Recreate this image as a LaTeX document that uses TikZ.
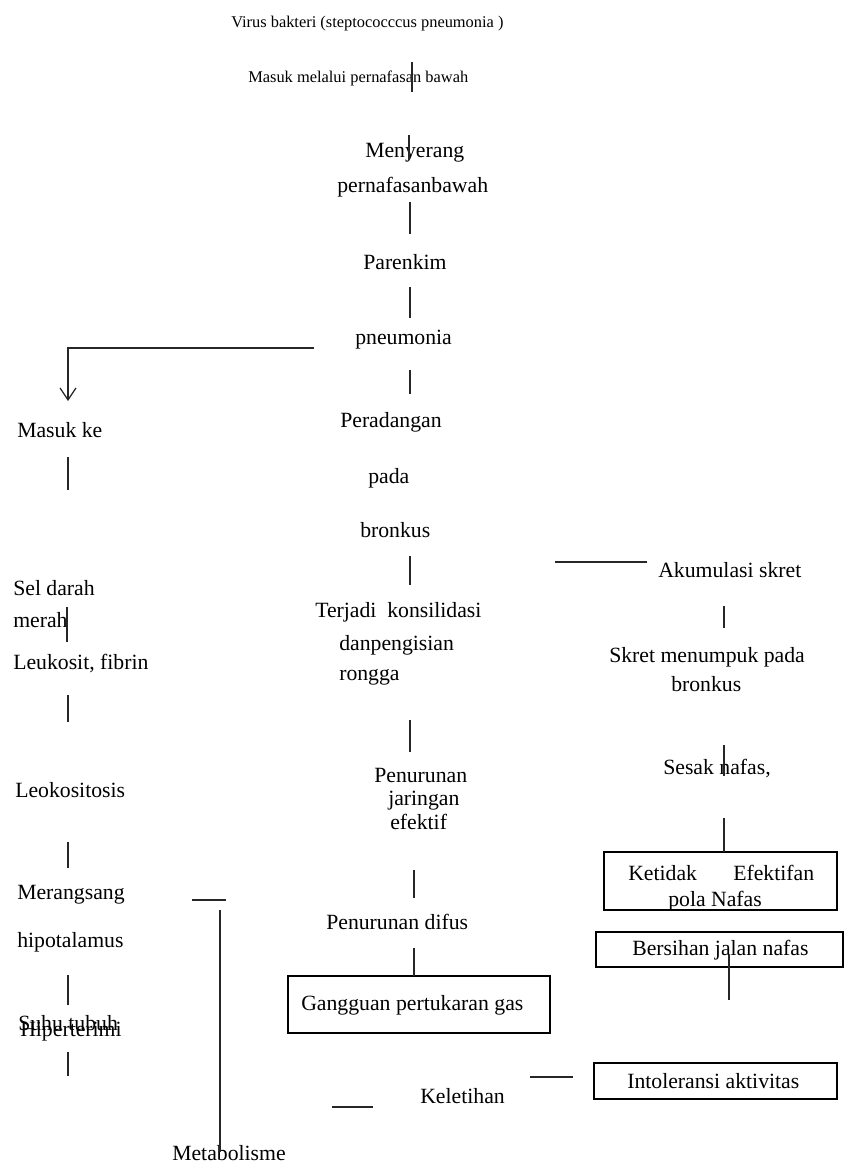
\documentclass[tikz,border=0pt]{standalone}
\usepackage{fontspec}
\setmainfont{Liberation Serif}
\usetikzlibrary{arrows.meta}
\newcommand\vseg[4]{\coordinate (#1a) at (#2,#3); \coordinate (#1b) at (#2,#4); \draw[ln] (#1a) -- (#1b);}
\newcommand\hseg[4]{\coordinate (#1a) at (#3,#2); \coordinate (#1b) at (#4,#2); \draw[ln] (#1a) -- (#1b);}
\begin{document}
\begin{tikzpicture}[x=0.75pt,y=-0.75pt,
  ln/.style={line width=0.9pt,black!85},
  txt/.style={inner sep=0pt,anchor=west,yshift=-3pt,text height=0.7em,text depth=0.2em,font=\fontsize{16.3}{19}\selectfont},
  small/.style={txt,font=\fontsize{12.3}{15}\selectfont},
  boxed/.style={draw,line width=0.9pt,inner sep=0pt}]
\fill[white] (0,0) rectangle (844,1167);
% top
\node[small] (t1) at (231,20) {Virus bakteri (steptococccus pneumonia )};
\node[small] (t2) at (248,75) {Masuk melalui pernafasan bawah};
% centre column
\node[txt] (c1) at (365,150) {Menyerang};
\node[txt] (c2) at (337,185) {pernafasanbawah};
\node[txt] (c3) at (363,262) {Parenkim};
\node[txt] (c4) at (355,337) {pneumonia};
\node[txt] (c5) at (340,420) {Peradangan};
\node[txt] (c6) at (368,476) {pada};
\node[txt] (c7) at (360,530) {bronkus};
\node[txt] (c8) at (315,610) {Terjadi\hspace{4pt} konsilidasi};
\node[txt] (c9) at (339,643) {danpengisian};
\node[txt] (c10) at (339,673) {rongga};
\node[txt] (c11) at (374,775) {Penurunan};
\node[txt] (c12) at (388,798) {jaringan};
\node[txt] (c13) at (390,822) {efektif};
\node[txt] (c14) at (326,922) {Penurunan difus};
\node[boxed,minimum width=196.5pt,minimum height=42.75pt] (gbox) at (419,1004.5) {};
\node[txt] (gtext) at (301,1003) {Gangguan pertukaran gas};
\node[txt] (kel) at (420,1096) {Keletihan};
\node[txt] (meta) at (172,1153) {Metabolisme};
% left column
\node[txt] (l1) at (17,430) {Masuk ke};
\node[txt] (l2) at (13,588) {Sel darah};
\node[txt] (l3) at (13,620) {merah};
\node[txt] (l4) at (13,662) {Leukosit, fibrin};
\node[txt] (l5) at (15,790) {Leokositosis};
\node[txt] (l6) at (17,892) {Merangsang};
\node[txt] (l7) at (17,940) {hipotalamus};
\node[txt] (l8) at (18,1023) {Suhu tubuh};
\node[txt] (l9) at (20,1029) {Hiperterimi};
% right column
\node[txt] (r1) at (658,570) {Akumulasi skret};
\node[txt] (r2) at (609,655) {Skret menumpuk pada};
\node[txt] (r3) at (671,684) {bronkus};
\node[txt] (r4) at (663,767) {Sesak nafas,};
\node[boxed,minimum width=174.75pt,minimum height=43.5pt] (kbox) at (720.5,881) {};
\node[txt] (k1) at (628,873) {Ketidak};
\node[txt] (k2) at (733,873) {Efektifan};
\node[txt] (k3) at (668,899) {pola Nafas};
\node[boxed,minimum width=185.25pt,minimum height=26.25pt] (bbox) at (719.5,949.5) {};
\node[txt] (btext) at (632,948) {Bersihan jalan nafas};
\node[boxed,minimum width=182.25pt,minimum height=27pt] (ibox) at (715.5,1081) {};
\node[txt] (itext) at (627,1081) {Intoleransi aktivitas};
% arrow from pneumonia
\coordinate (pa) at (314,348);
\coordinate (pb) at (68,348);
\coordinate (pc) at (68,401);
\draw[ln,-{Straight Barb[length=9pt,width=12pt,line width=0.9pt]}] (pa) -- (pb) -- (pc);
% vertical segments centre
\vseg{s1}{412}{62}{92}
\vseg{s2}{409}{135}{160}
\vseg{s3}{410}{202}{234}
\vseg{s4}{410}{287}{318}
\vseg{s5}{410}{370}{394}
\vseg{s6}{410}{556}{585}
\vseg{s7}{410}{720}{752}
\vseg{s8}{414}{870}{898}
\vseg{s9}{414}{948}{976}
% left
\vseg{s10}{68}{457}{490}
\vseg{s11}{67}{607}{642}
\vseg{s12}{68}{695}{722}
\vseg{s13}{68}{842}{868}
\vseg{s14}{68}{975}{1005}
\vseg{s15}{68}{1052}{1076}
\vseg{s16}{220}{910}{1152}
% right
\vseg{s17}{724}{606}{628}
\vseg{s18}{724}{745}{776}
\vseg{s19}{724}{818}{852}
\vseg{s20}{729}{955}{1000}
% horizontal
\hseg{h1}{562}{555}{647}
\hseg{h2}{900}{192}{226}
\hseg{h3}{1077}{530}{573}
\hseg{h4}{1107}{332}{373}
\end{tikzpicture}
\end{document}
